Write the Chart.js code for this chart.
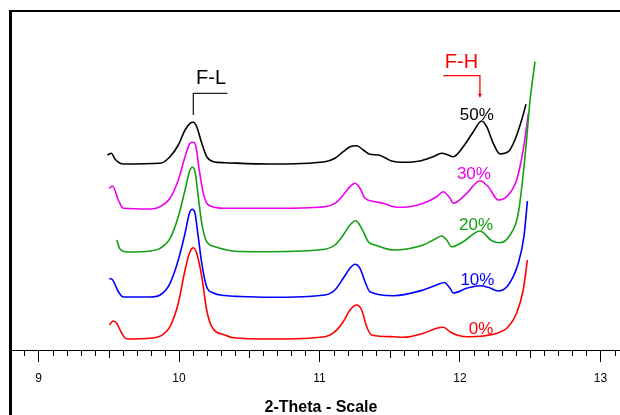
<!DOCTYPE html>
<html lang="en">
<head>
<meta charset="UTF-8">
<title>XRD patterns</title>
<script src="https://cdn.jsdelivr.net/npm/chart.js"></script>
<style>
  html, body { margin: 0; padding: 0; background: #fff; }
  #wrap { position: relative; width: 620px; height: 415px; }
</style>
</head>
<body>
<div id="wrap"><canvas id="xrd"></canvas></div>
<script>
// 2-theta values and intensities (arbitrary units, offset stack)
const x0 = [9.504, 9.532, 9.557, 9.592, 9.628, 9.794, 9.888, 9.936, 9.995, 10.043, 10.078, 10.102, 10.126, 10.162, 10.197, 10.233, 10.327, 10.386, 10.648, 11.039, 11.110, 11.169, 11.217, 11.265, 11.300, 11.336, 11.371, 11.525, 11.596, 11.739, 11.834, 11.881, 11.929, 11.977, 12.048, 12.166, 12.261, 12.344, 12.403, 12.450, 12.480];
const y0 = [25, 29, 26.7, 16.7, 11, 11.7, 15.7, 23.3, 46.7, 80, 98.3, 102.3, 96.7, 73.3, 40, 23.3, 15, 12.3, 11, 13.3, 18.3, 28.3, 40, 45, 40, 23.3, 15, 13.3, 12.7, 16.7, 21.7, 22.7, 18.3, 15, 13.3, 14, 16.7, 23.3, 36.7, 60, 90];

const x10 = [9.504, 9.528, 9.568, 9.604, 9.794, 9.865, 9.936, 9.995, 10.043, 10.074, 10.094, 10.114, 10.137, 10.162, 10.197, 10.244, 10.327, 10.434, 10.648, 11.039, 11.110, 11.169, 11.217, 11.253, 11.288, 11.324, 11.359, 11.525, 11.739, 11.834, 11.888, 11.929, 11.952, 12.048, 12.142, 12.201, 12.273, 12.344, 12.415, 12.455, 12.480];
const y10 = [71.5, 70, 58.3, 53, 53, 55, 66.7, 90, 116.7, 136.7, 140.7, 136.7, 113.3, 86.7, 63.3, 57, 54.5, 53.5, 52.7, 55, 60, 71.7, 81.7, 85.7, 81.7, 68.3, 58.3, 54.3, 60, 65, 67.5, 61.7, 57, 61.7, 64.3, 62.7, 59, 65, 86.7, 113.3, 149];

const x20 = [9.557, 9.580, 9.639, 9.794, 9.865, 9.936, 9.995, 10.043, 10.074, 10.094, 10.114, 10.137, 10.162, 10.197, 10.256, 10.434, 10.648, 11.039, 11.110, 11.169, 11.217, 11.258, 11.300, 11.347, 11.395, 11.525, 11.739, 11.810, 11.870, 11.905, 11.941, 12.023, 12.142, 12.226, 12.285, 12.356, 12.415, 12.463, 12.499, 12.534];
const y20 = [110, 101, 98, 99, 101.7, 111.7, 133.3, 160, 178.3, 182.7, 178.3, 153.3, 126.7, 108.3, 103.3, 98.5, 98.3, 100.7, 105, 115, 125, 129.3, 121.7, 108.3, 105, 100, 105, 110, 114, 110, 103.3, 108.3, 119, 109.3, 107.3, 115, 136.7, 193.3, 250, 288.3];

const x30 = [9.504, 9.527, 9.568, 9.604, 9.794, 9.865, 9.936, 9.995, 10.043, 10.078, 10.102, 10.121, 10.144, 10.173, 10.209, 10.327, 10.648, 11.039, 11.110, 11.169, 11.217, 11.253, 11.288, 11.324, 11.395, 11.454, 11.525, 11.596, 11.739, 11.834, 11.881, 11.929, 11.952, 12.048, 12.142, 12.201, 12.273, 12.344, 12.403, 12.450, 12.487];
const y30 = [161.7, 164, 150, 141.7, 141, 143.3, 151.7, 170, 193.3, 206.7, 207.7, 203.3, 180, 156.7, 145, 141.7, 141.7, 143.3, 146.7, 155, 163.3, 166.7, 161.7, 151.7, 148.3, 146.7, 143.3, 142.7, 146.7, 153.3, 158.3, 151.7, 146.7, 156.7, 169.3, 163.3, 150, 155, 170, 200, 236.7];

const x50 = [9.490, 9.520, 9.544, 9.604, 9.865, 9.936, 9.995, 10.043, 10.078, 10.102, 10.126, 10.162, 10.197, 10.244, 10.327, 10.648, 11.039, 11.110, 11.169, 11.217, 11.265, 11.312, 11.359, 11.418, 11.466, 11.513, 11.594, 11.715, 11.808, 11.870, 11.915, 11.952, 12.023, 12.095, 12.154, 12.190, 12.237, 12.285, 12.344, 12.391, 12.439, 12.470];
const y50 = [195, 196.7, 191, 186, 186.7, 193.3, 205, 220, 226.7, 227.7, 223.3, 206.7, 193.3, 188.3, 187.3, 186, 188.3, 191.7, 198.3, 203.3, 204.3, 200, 195.7, 195, 192.3, 189, 187.7, 189, 193.3, 196.7, 195, 193.3, 203.3, 218.3, 229, 223.3, 206.7, 196, 198.3, 210, 230, 245.7];

const seriesNames = ['0%', '10%', '20%', '30%', '50%'];
const seriesX = [x0, x10, x20, x30, x50];
const seriesY = [y0, y10, y20, y30, y50];
const seriesColors = ['#ff0000', '#0000ff', '#12a012', '#ee00ee', '#000000'];
const tickValues = [9, 10, 11, 12, 13];

const datasets = seriesNames.map((name, i) => ({
  label: name,
  data: seriesX[i].map((x, j) => ({ x: x, y: seriesY[i][j] })),
  borderColor: seriesColors[i],
  borderWidth: 1.6,
  pointRadius: 0,
  fill: false,
  cubicInterpolationMode: 'monotone'
}));

// label spots for the percent tags (data units)
const tagSpots = [[12.150, 21], [12.124, 69.5], [12.114, 124.5], [12.099, 176], [12.120, 234.5]];

const decor = {
  id: 'decor',
  afterDraw(chart) {
    const ctx = chart.ctx;
    const xs = chart.scales.x, ys = chart.scales.y;
    const area = chart.chartArea;
    ctx.save();

    // outer frame (left and top edges)
    ctx.fillStyle = '#000';
    ctx.fillRect(9, 10, 3, 405);
    ctx.fillRect(9, 10, 611, 2);

    // minor ticks every 0.1, medium at .5
    ctx.strokeStyle = '#000';
    ctx.lineWidth = 1;
    for (let k = 88; k <= 131; k++) {
      if (k % 10 === 0) continue;
      const px = Math.round(xs.getPixelForValue(k / 10)) + 0.5;
      const len = (k % 5 === 0) ? 8 : 6;
      ctx.beginPath();
      ctx.moveTo(px, area.bottom);
      ctx.lineTo(px, area.bottom + len);
      ctx.stroke();
    }

    // percent tags
    ctx.font = '17px "Liberation Sans", Arial, sans-serif';
    ctx.textAlign = 'center';
    ctx.textBaseline = 'middle';
    seriesNames.forEach((name, i) => {
      ctx.fillStyle = seriesColors[i];
      ctx.fillText(name, xs.getPixelForValue(tagSpots[i][0]), ys.getPixelForValue(tagSpots[i][1]));
    });

    // F-L marker
    ctx.font = '20px "Liberation Sans", Arial, sans-serif';
    ctx.fillStyle = '#000';
    ctx.fillText('F-L', xs.getPixelForValue(10.228), ys.getPixelForValue(271.5));
    ctx.strokeStyle = '#222';
    ctx.lineWidth = 1.3;
    ctx.beginPath();
    ctx.moveTo(xs.getPixelForValue(10.344), ys.getPixelForValue(256.7));
    ctx.lineTo(xs.getPixelForValue(10.102), ys.getPixelForValue(256.7));
    ctx.lineTo(xs.getPixelForValue(10.102), ys.getPixelForValue(235));
    ctx.stroke();

    // F-H marker
    ctx.fillStyle = '#ff0000';
    ctx.fillText('F-H', xs.getPixelForValue(12.011), ys.getPixelForValue(287.5));
    ctx.strokeStyle = '#ff0000';
    const hx = xs.getPixelForValue(12.142);
    const hy = ys.getPixelForValue(253.3);
    ctx.beginPath();
    ctx.moveTo(xs.getPixelForValue(11.881), ys.getPixelForValue(274.3));
    ctx.lineTo(hx, ys.getPixelForValue(274.3));
    ctx.lineTo(hx, hy);
    ctx.stroke();
    ctx.beginPath();
    ctx.moveTo(hx - 2, hy - 3);
    ctx.lineTo(hx + 2, hy - 3);
    ctx.lineTo(hx, hy + 1);
    ctx.closePath();
    ctx.fill();

    // axis title
    ctx.fillStyle = '#000';
    ctx.font = 'bold 16px "Liberation Sans", Arial, sans-serif';
    ctx.fillText('2-Theta - Scale', 321, 408);
    ctx.restore();
  }
};

new Chart(document.getElementById('xrd'), {
  type: 'line',
  data: { datasets: datasets },
  options: {
    responsive: true,
    maintainAspectRatio: false,
    animation: false,
    devicePixelRatio: 1,
    layout: { padding: { left: 10, top: 10, right: 0, bottom: 0 } },
    plugins: { legend: { display: false }, tooltip: { enabled: false } },
    scales: {
      x: {
        type: 'linear',
        min: 8.797,
        max: 13.139,
        afterBuildTicks: s => { s.ticks = tickValues.map(v => ({ value: v })); },
        afterFit: s => { s.height = 65; },
        grid: { drawOnChartArea: false, drawTicks: true, tickLength: 12, color: '#000' },
        border: { display: true, color: '#000', width: 1 },
        ticks: {
          padding: 9,
          color: '#000',
          maxRotation: 0,
          font: { family: '"Liberation Sans", Arial, sans-serif', size: 12 }
        }
      },
      y: {
        type: 'linear',
        min: 0,
        max: 340,
        display: false
      }
    }
  },
  plugins: [decor]
});
</script>
</body>
</html>
